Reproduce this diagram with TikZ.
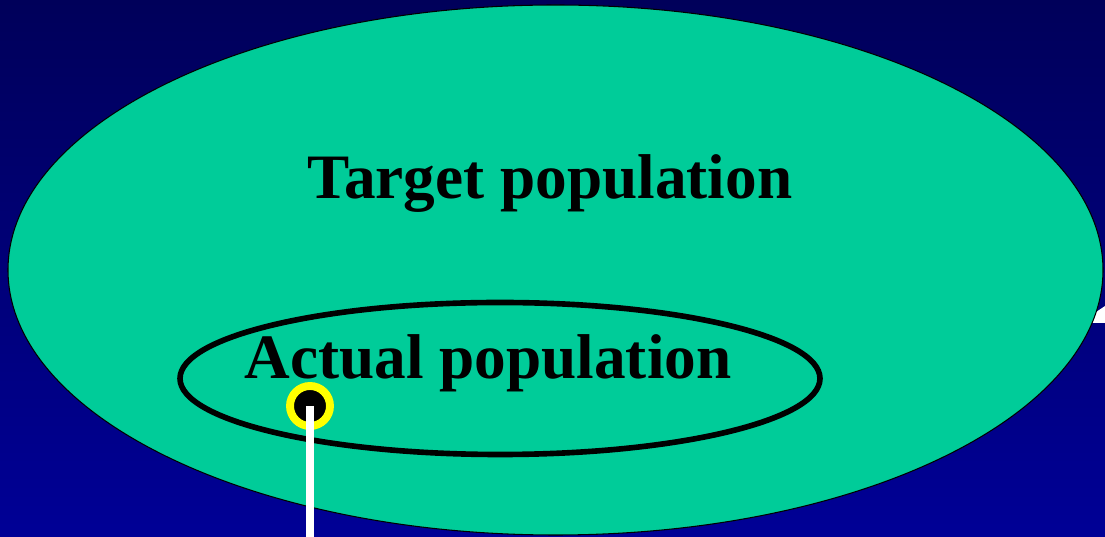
\documentclass[tikz,border=0pt]{standalone}
\usepackage{fontspec}
\setmainfont{Liberation Serif}
\definecolor{bgtop}{RGB}{0,0,90}
\definecolor{bgbottom}{RGB}{0,0,150}
\definecolor{popgreen}{RGB}{0,204,153}
\definecolor{ringyellow}{RGB}{255,255,0}
\begin{document}
\begin{tikzpicture}[line width=0.6pt,font=\fontsize{36}{40}\selectfont\bfseries]
  \shade[top color=bgtop,bottom color=bgbottom] (0,0) rectangle (22.1,10.74);
  \useasboundingbox (0,0) rectangle (22.1,10.74);

  % white mark behind the big ellipse
  \fill[white] (21.6,4.28) -- (22.1,4.62) -- (22.1,4.28) -- cycle;

  \coordinate (T) at (11.11,5.34);
  \coordinate (A) at (10.0,3.17);
  \coordinate (E) at (6.2,0);

  \draw[fill=popgreen] (T) ellipse [x radius=10.95, y radius=5.3];
  \draw[line width=3.2pt] (A) ellipse [x radius=6.4, y radius=1.52];

  \node (target) at (11.0,7.06) {Target population};
  \node (actual) at (9.76,3.48) {Actual population};

  \node[circle,fill=black,draw=ringyellow,line width=4.5pt,minimum size=0.8cm,inner sep=0pt] (dot) at (6.2,2.62) {};
  \draw[white,line width=4pt] (dot.center) -- (E);
\end{tikzpicture}
\end{document}
